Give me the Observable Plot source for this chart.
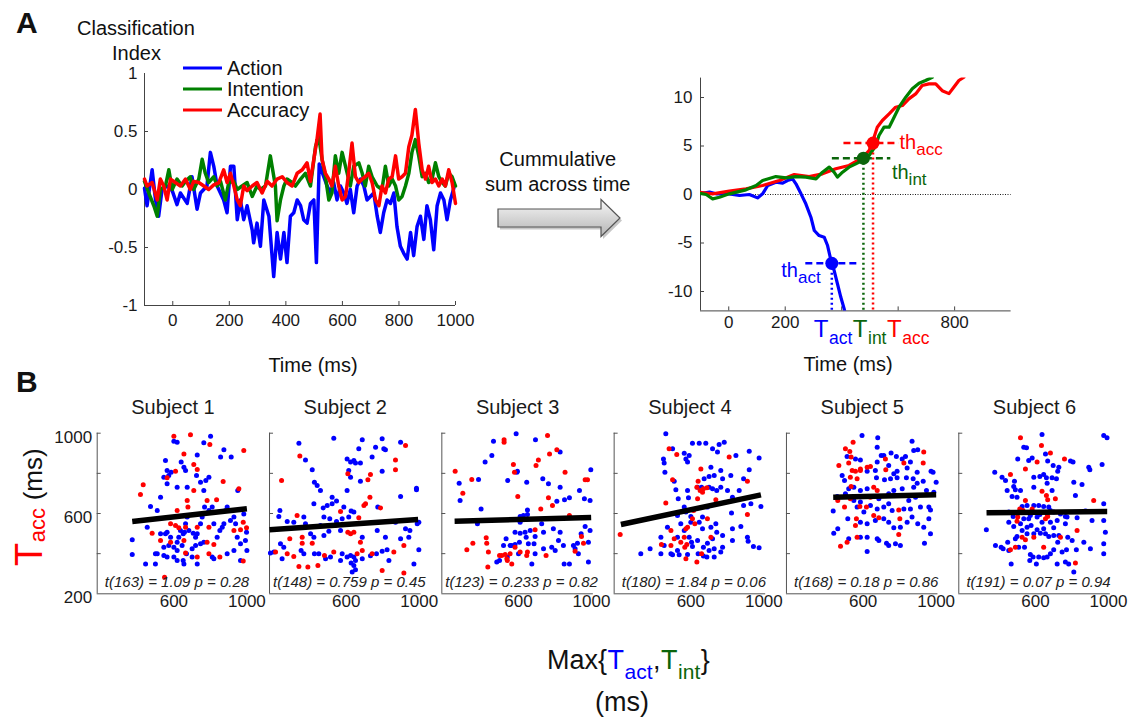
<!DOCTYPE html>
<html><head><meta charset="utf-8">
<script src="https://cdn.jsdelivr.net/npm/d3@7"></script>
<script src="https://cdn.jsdelivr.net/npm/@observablehq/plot@0.6"></script>
<style>
body{margin:0;background:#fff;}
#page{position:relative;width:1133px;height:719px;overflow:hidden;background:#fff;font-family:Arial,"Liberation Sans",Helvetica,sans-serif;}
</style></head><body><div id="page"></div>
<script>
// ---------------- DATA ----------------
// Panel A (left): classification index over time (ms)
const actionSeries = [[-100,0.01],[-91,-0.14],[-73,0.17],[-61,-0.09],[-50,-0.23],[-38,0.0],[-20,0.03],[-2,-0.01],[15,-0.13],[27,-0.03],[51,-0.12],[68,0.11],[86,-0.17],[98,-0.03],[121,0.03],[133,0.32],[145,0.2],[157,0.03],[180,-0.09],[192,-0.2],[204,0.2],[216,0.2],[228,-0.26],[239,-0.09],[251,-0.26],[263,-0.14],[281,-0.35],[286,-0.46],[298,-0.29],[310,-0.49],[322,-0.09],[340,-0.23],[357,-0.75],[369,-0.37],[381,-0.6],[393,-0.37],[404,-0.63],[416,-0.23],[428,-0.2],[440,-0.09],[452,-0.14],[463,-0.26],[475,-0.29],[487,-0.12],[499,-0.09],[508,-0.63],[518,0.22],[534,0.11],[546,0.03],[558,-0.03],[569,0.06],[581,-0.09],[593,0.03],[605,-0.03],[616,-0.12],[628,0.0],[640,-0.2],[652,0.03],[664,0.09],[676,0.03],[687,-0.09],[711,-0.03],[723,-0.23],[734,-0.37],[746,-0.2],[758,-0.09],[770,-0.12],[782,-0.03],[793,-0.32],[805,-0.49],[817,-0.55],[829,-0.6],[841,-0.37],[852,-0.57],[864,-0.32],[876,-0.23],[888,-0.43],[899,-0.14],[911,-0.26],[923,-0.52],[935,-0.14],[947,-0.03],[959,-0.09],[970,-0.26],[982,-0.09],[994,0.01]];
const intentionSeries = [[-100,0.07],[-85,-0.03],[-67,-0.14],[-55,-0.23],[-44,0.0],[-26,0.03],[-14,0.17],[-2,0.0],[15,0.09],[33,0.03],[45,0.07],[62,0.11],[74,0.0],[92,0.09],[104,0.26],[115,0.14],[127,0.06],[145,0.11],[157,0.03],[169,0.07],[186,-0.09],[198,0.06],[216,0.07],[228,0.0],[245,0.03],[263,0.06],[281,-0.06],[298,0.03],[310,0.0],[328,0.03],[345,0.29],[363,0.03],[369,-0.27],[381,-0.09],[393,0.03],[404,0.09],[422,0.06],[434,0.03],[452,0.09],[469,0.14],[487,0.03],[505,0.37],[516,0.46],[528,0.26],[540,0.11],[552,-0.09],[563,-0.03],[575,0.29],[587,0.14],[599,0.32],[611,0.2],[628,0.03],[640,0.2],[658,0.23],[670,0.14],[681,0.03],[693,0.2],[705,0.11],[723,0.03],[740,0.0],[752,0.2],[764,0.03],[776,0.09],[788,0.03],[799,-0.09],[811,-0.06],[823,0.03],[835,0.14],[846,0.32],[858,0.43],[870,0.29],[882,0.11],[894,0.14],[905,0.06],[917,0.09],[929,0.23],[941,0.11],[953,0.06],[964,0.03],[976,0.14],[988,0.11],[1000,0.03]];
const accuracySeries = [[-100,0.09],[-91,0.03],[-73,0.06],[-55,-0.09],[-44,0.09],[-32,0.03],[-20,-0.09],[-8,0.09],[9,0.06],[27,0.03],[45,0.09],[62,0.0],[74,0.07],[92,0.06],[110,0.03],[127,0.0],[145,0.04],[163,0.06],[180,0.17],[192,0.06],[204,0.14],[216,0.03],[228,-0.09],[239,-0.14],[251,0.03],[263,-0.01],[281,0.03],[298,0.06],[316,-0.03],[334,0.07],[351,0.03],[369,0.09],[387,0.11],[404,0.06],[422,0.03],[440,0.14],[458,0.17],[475,0.23],[487,0.07],[499,0.26],[510,0.43],[521,0.65],[528,0.26],[540,0.14],[552,0.09],[563,0.03],[575,0.2],[587,0.03],[599,-0.09],[611,-0.06],[622,0.14],[634,0.4],[646,0.11],[658,0.06],[670,0.09],[681,0.11],[693,0.14],[705,0.06],[717,-0.09],[729,-0.14],[740,0.03],[752,-0.03],[764,0.09],[776,0.11],[788,0.29],[799,0.09],[811,0.11],[823,0.14],[835,0.37],[846,0.47],[858,0.69],[870,0.4],[882,0.17],[894,0.09],[905,0.2],[917,0.06],[929,0.09],[941,0.03],[953,0.09],[964,0.03],[976,0.17],[988,0.06],[1000,-0.12]];
const timeTicksA = [0, 200, 400, 600, 800, 1000];
const indexTicks = [-1, -0.5, 0, 0.5, 1];

// Panel A (right): cumulative sums
const cumAction = [[-104,0.07],[-68,0.24],[-45,0.07],[2,0.07],[38,-0.1],[73,0.0],[102,-0.35],[120,0.07],[138,0.93],[167,1.27],[191,1.17],[208,1.44],[226,1.61],[238,1.1],[256,0.07],[273,-0.96],[291,-2.34],[303,-3.71],[320,-4.23],[338,-4.4],[350,-5.26],[362,-6.8],[373,-7.8],[385,-9.2],[397,-10.6],[409,-11.8],[413,-12.4]];
const cumAccuracy = [[-104,0.24],[-57,0.07],[2,0.34],[61,0.58],[120,0.93],[179,1.44],[232,2.06],[285,1.85],[332,2.13],[379,2.65],[426,2.99],[473,3.78],[497,4.53],[509,5.39],[526,6.94],[544,7.63],[568,8.31],[591,9.0],[615,9.17],[638,9.86],[662,10.37],[685,11.23],[709,11.4],[733,11.4],[756,10.7],[780,10.4],[797,11.06],[815,11.75],[833,12.09]];
const cumIntention = [[-104,0.14],[-80,0.0],[-57,-0.45],[-33,-0.28],[2,0.07],[61,0.48],[97,0.93],[120,1.44],[167,1.85],[203,1.72],[238,1.85],[273,1.79],[309,1.61],[332,2.3],[356,2.82],[373,2.3],[385,1.79],[403,2.3],[426,2.82],[450,3.16],[473,3.5],[497,4.02],[521,5.05],[532,6.08],[550,6.94],[568,6.94],[580,7.63],[603,9.0],[627,10.03],[650,10.9],[674,11.47],[697,11.75],[721,12.09]];
const cumTicks = [-10, -5, 0, 5, 10];
const cumTimeTicks = [0, 200, 400, 600, 800];
const cumTimeLabels = [0, 200, 800];
const thresholdNames = ["act", "int", "acc"];
const thresholdTime = [365, 477, 511];
const thresholdLevel = [-7.1, 3.75, 5.3];
const thresholdLineFrom = [273, 367, 408];
const thresholdLineTo = [456, 574, 603];

// Panel B: six subjects, T_acc vs Max{T_act, T_int}
const subjects = [1, 2, 3, 4, 5, 6];
const tStats = ["t(163) = 1.09 p = 0.28", "t(148) = 0.759 p = 0.45", "t(123) = 0.233 p = 0.82", "t(180) = 1.84 p = 0.06", "t(168) = 0.18 p = 0.86", "t(191) = 0.07 p = 0.94"];
const fitStartX = [372, 180, 250, 217, 436, 332];
const fitStartY = [560, 519, 562, 545, 681, 604];
const fitEndX = [1000, 994, 998, 984, 1000, 993];
const fitEndY = [624, 570, 580, 693, 693, 610];
const xLabelsB = [600, 1000];
const yLabelsB = [200, 600, 1000];
const yTicksB = [400, 600, 800, 1000];

const s1Blue = [[600,960],[618,955],[801,985],[764,952],[874,917],[728,892],[554,864],[563,814],[572,789],[585,806],[545,781],[563,748],[640,856],[655,831],[664,814],[724,789],[746,756],[775,764],[792,781],[856,881],[914,881],[950,715],[618,731],[673,731],[527,681],[509,615],[472,635],[454,532],[372,469],[372,396],[499,399],[499,349],[545,391],[554,499],[527,499],[563,507],[582,482],[545,432],[572,441],[600,432],[618,416],[627,482],[636,515],[651,499],[658,507],[664,549],[673,582],[682,515],[706,502],[719,482],[728,499],[746,549],[755,582],[768,632],[764,715],[792,615],[810,632],[819,549],[837,482],[852,515],[865,532],[874,549],[883,615],[892,632],[910,565],[929,582],[938,549],[947,482],[965,449],[992,466],[998,507],[983,598],[1000,416],[929,416],[965,366],[892,399],[810,383],[819,374],[728,349],[655,349],[618,366],[600,383],[563,383],[509,399],[445,349],[669,399],[700,424],[700,383],[618,457],[645,441],[719,441],[746,449],[764,457],[651,366]];
const s1Red = [[600,985],[691,992],[797,944],[983,914],[432,743],[417,695],[563,778],[709,844],[728,819],[655,897],[609,811],[870,759],[956,723],[709,715],[673,665],[677,632],[782,665],[834,668],[618,615],[582,549],[609,540],[627,529],[664,532],[728,532],[792,532],[929,515],[980,557],[965,519],[998,529],[481,502],[527,466],[582,457],[655,466],[782,457],[819,446],[664,403],[728,383],[792,399],[852,383],[980,363],[549,283]];
const s2Blue = [[341,950],[532,975],[797,972],[688,967],[669,922],[797,811],[377,867],[414,818],[426,756],[441,740],[459,715],[523,681],[547,662],[523,648],[496,640],[474,628],[423,648],[368,582],[237,615],[231,585],[277,560],[313,557],[459,540],[478,582],[510,574],[547,560],[578,574],[614,582],[627,612],[642,607],[587,632],[605,715],[624,781],[624,856],[651,851],[605,872],[642,864],[678,851],[742,881],[614,814],[678,761],[761,930],[806,922],[898,955],[815,917],[985,726],[985,718],[898,685],[773,632],[870,557],[989,549],[949,515],[925,524],[898,474],[815,482],[824,419],[797,412],[766,399],[733,389],[688,374],[651,366],[642,383],[624,391],[605,383],[578,399],[569,366],[514,383],[487,374],[450,399],[426,399],[368,399],[353,416],[258,432],[249,374],[240,449],[204,408],[185,403],[377,549],[405,499],[478,491],[505,512],[569,515],[633,308],[642,341],[651,320],[627,354],[971,349],[834,366],[998,419],[998,557],[943,482],[770,515],[688,482],[423,482]];
const s2Red = [[246,764],[346,887],[925,939],[870,867],[870,818],[733,794],[609,798],[719,768],[706,648],[697,640],[569,610],[669,579],[788,628],[541,540],[609,507],[642,507],[624,499],[678,457],[916,441],[532,408],[481,391],[414,452],[359,452],[331,590],[291,474],[213,408],[277,399],[313,386],[341,336],[390,333],[445,341],[660,399],[688,416],[742,399],[861,408],[797,316],[916,303],[730,681],[359,482]];
const s3Blue = [[275,751],[280,665],[381,769],[395,623],[375,549],[417,856],[454,889],[463,960],[541,764],[591,806],[594,811],[587,997],[645,756],[693,967],[828,906],[733,773],[764,748],[810,661],[852,668],[879,678],[934,715],[961,673],[992,665],[996,818],[828,731],[609,585],[627,590],[649,595],[649,618],[609,557],[581,507],[609,502],[636,507],[664,515],[691,486],[685,449],[654,449],[605,457],[581,446],[554,441],[642,482],[727,549],[737,507],[691,399],[737,424],[782,432],[801,416],[791,524],[819,466],[846,441],[850,349],[879,349],[828,507],[901,441],[923,452],[943,499],[965,535],[992,515],[983,457],[983,358],[928,399],[910,424],[673,349],[481,358],[496,366],[539,383],[563,441],[518,441],[532,474],[600,399]];
const s3Red = [[253,811],[295,701],[344,769],[423,479],[435,408],[426,452],[521,967],[521,955],[572,844],[578,806],[596,685],[645,391],[649,408],[609,408],[581,432],[554,399],[536,374],[527,396],[508,391],[563,349],[539,366],[696,839],[709,867],[759,988],[770,897],[810,917],[855,806],[722,623],[764,678],[786,640],[879,590],[945,485],[965,768],[978,768],[956,452],[910,412],[751,391],[691,519],[317,419],[350,452],[432,333],[496,391]];
const s4Blue = [[463,997],[450,872],[454,851],[458,806],[500,922],[564,900],[573,872],[582,856],[591,889],[609,950],[646,950],[682,950],[719,922],[755,944],[783,955],[746,906],[847,889],[920,910],[974,877],[920,818],[889,773],[819,789],[764,814],[728,789],[700,784],[673,773],[637,731],[659,731],[700,731],[719,723],[742,715],[764,731],[774,773],[710,831],[801,715],[865,715],[828,681],[509,761],[518,718],[531,673],[582,715],[587,678],[564,632],[573,607],[600,585],[600,557],[646,557],[664,582],[691,632],[710,532],[737,549],[742,507],[719,474],[774,491],[828,524],[823,602],[889,640],[929,648],[984,635],[874,535],[910,482],[914,462],[943,436],[974,429],[828,466],[774,432],[728,424],[700,416],[688,383],[669,388],[640,399],[609,436],[604,457],[591,482],[472,532],[436,482],[454,441],[491,399],[436,399],[377,424],[326,399],[500,394],[536,394],[527,416],[582,396],[728,383],[764,408],[669,432],[637,466],[691,452],[664,524],[527,482],[564,515],[527,590],[545,549]];
const s4Red = [[213,495],[439,446],[491,441],[481,922],[523,894],[500,768],[463,652],[640,761],[655,822],[633,731],[651,715],[637,673],[664,706],[669,723],[688,728],[615,615],[609,574],[622,549],[582,532],[573,524],[564,482],[567,432],[578,446],[545,457],[509,474],[573,374],[633,358],[659,399],[710,482],[691,574],[737,668],[810,881],[910,761],[910,595],[491,515]];
const s5Blue = [[594,989],[680,977],[868,960],[877,914],[899,917],[753,901],[782,884],[814,872],[832,884],[699,889],[677,856],[512,884],[558,872],[585,867],[622,811],[667,814],[673,778],[740,839],[768,798],[786,811],[841,827],[859,856],[896,806],[972,811],[983,806],[874,773],[837,778],[786,778],[750,773],[717,768],[1000,756],[929,761],[896,751],[877,731],[947,715],[987,706],[814,723],[768,715],[740,698],[686,673],[622,723],[585,715],[549,731],[521,723],[498,764],[485,789],[436,612],[458,685],[503,690],[549,665],[585,657],[567,632],[604,607],[640,640],[677,623],[713,632],[740,648],[759,615],[823,623],[859,623],[914,632],[969,618],[960,574],[932,532],[899,549],[868,582],[841,557],[804,532],[768,529],[740,557],[713,574],[667,565],[622,549],[585,557],[516,574],[461,524],[439,502],[521,474],[585,482],[622,482],[677,474],[686,466],[728,452],[740,441],[804,441],[777,449],[936,452],[969,499],[622,411],[503,698],[677,930],[713,889],[850,665],[887,681],[960,632]];
const s5Red = [[545,955],[503,922],[527,909],[534,881],[521,852],[467,839],[540,814],[558,811],[585,814],[585,822],[622,831],[640,834],[722,872],[724,818],[823,851],[929,851],[932,906],[530,781],[534,735],[567,773],[658,731],[677,715],[640,681],[461,665],[498,632],[582,635],[618,632],[658,590],[686,579],[563,574],[558,540],[567,482],[795,618],[801,574],[795,495],[512,457],[476,437],[530,673]];
const s6Blue = [[636,993],[974,988],[992,977],[536,930],[551,927],[503,872],[563,864],[582,877],[655,897],[667,861],[697,839],[728,831],[722,811],[792,861],[806,856],[892,831],[898,818],[965,844],[377,806],[417,781],[436,764],[485,761],[481,735],[490,718],[518,715],[591,731],[624,784],[660,778],[691,778],[715,773],[645,794],[855,744],[819,690],[874,612],[974,648],[974,565],[910,565],[828,579],[764,585],[737,598],[700,607],[673,632],[645,635],[618,640],[591,640],[554,640],[527,635],[499,681],[472,685],[445,715],[454,607],[478,585],[536,574],[563,574],[609,582],[636,557],[682,557],[719,565],[773,582],[331,519],[381,441],[412,432],[423,424],[448,457],[490,474],[499,486],[527,515],[554,532],[576,540],[609,519],[627,502],[655,499],[673,486],[700,491],[728,491],[777,482],[801,466],[865,457],[974,449],[974,399],[983,507],[901,424],[824,419],[770,419],[746,408],[722,457],[700,419],[682,399],[664,383],[645,379],[618,383],[587,383],[569,366],[605,349],[572,396],[540,432],[508,432],[467,349],[454,416],[782,349],[764,358],[810,308],[719,349],[764,549],[700,529],[645,524],[591,499],[554,499],[518,549],[481,535],[454,557],[572,590],[624,595],[691,715],[664,751],[810,756],[591,781],[682,615]];
const s6Red = [[518,977],[633,939],[682,901],[759,872],[609,856],[545,822],[463,794],[636,711],[660,690],[667,668],[709,673],[919,665],[545,665],[514,623],[503,582],[499,562],[532,615],[582,623],[664,598],[667,585],[655,574],[527,482],[545,469],[490,432],[463,419],[645,432],[737,482],[828,515],[819,353],[591,482]];

// ---------------- RENDER ----------------
const FONT = 'Arial, "Liberation Sans", Helvetica, sans-serif';
const page = document.getElementById("page");
function place(node, left, top) {
  node.style.position = "absolute";
  node.style.left = left + "px";
  node.style.top = top + "px";
  page.appendChild(node);
}
const baseStyle = {background: "transparent", fontFamily: FONT, fontSize: "17px", color: "#1a1a1a", overflow: "visible"};
const fmt = d => String(d);
const toRows = arr => arr.map(([t, v]) => ({t, v}));
const AXIS = "#444";

// Panel A left
const AL = {left: 80, top: 30, width: 400, height: 320, mL: 64, mR: 25, mT: 43, mB: 45};
const alW = AL.width - AL.mL - AL.mR, alH = AL.height - AL.mT - AL.mB;
const plotAL = Plot.plot({
  width: AL.width, height: AL.height,
  marginLeft: AL.mL, marginRight: AL.mR, marginTop: AL.mT, marginBottom: AL.mB,
  style: baseStyle,
  x: {domain: [-100, 1000]}, y: {domain: [-1, 1]},
  marks: [
    Plot.ruleX([-100], {stroke: AXIS}),
    Plot.ruleY([-1], {stroke: AXIS}),
    Plot.tickX(timeTicksA, {x: d => d, insetTop: alH - 4, stroke: AXIS}),
    Plot.tickY(indexTicks.filter(d => d > -1 && d < 1), {y: d => d, insetRight: alW - 4, stroke: AXIS}),
    Plot.axisX({ticks: timeTicksA, tickSize: 0, tickPadding: 8, tickFormat: fmt, label: null}),
    Plot.axisY({ticks: indexTicks, tickSize: 0, tickPadding: 7, tickFormat: fmt, label: null}),
    Plot.line(toRows(actionSeries), {x: "t", y: "v", stroke: "#0000ff", strokeWidth: 3.5}),
    Plot.line(toRows(intentionSeries), {x: "t", y: "v", stroke: "#008000", strokeWidth: 3.5}),
    Plot.line(toRows(accuracySeries), {x: "t", y: "v", stroke: "#ff0000", strokeWidth: 3.5})
  ]
});
place(plotAL, AL.left, AL.top);

// Panel A right
const thrColor = {act: "#0000ff", int: "#0b650b", acc: "#ff0000"};
const thrRows = thresholdNames.map((n, i) => ({name: n, time: thresholdTime[i], level: thresholdLevel[i], from: thresholdLineFrom[i], to: thresholdLineTo[i], color: thrColor[n]}));
const AR = {left: 640, top: 50, width: 400, height: 300, mL: 60, mR: 29.4, mT: 27.6, mB: 39.6};
const arW = AR.width - AR.mL - AR.mR, arH = AR.height - AR.mT - AR.mB;
const plotAR = Plot.plot({
  width: AR.width, height: AR.height,
  marginLeft: AR.mL, marginRight: AR.mR, marginTop: AR.mT, marginBottom: AR.mB,
  style: baseStyle,
  x: {domain: [-100, 1000]}, y: {domain: [-12, 12]},
  color: {type: "identity"},
  marks: [
    Plot.ruleY([0], {stroke: "#000", strokeWidth: 0.9, strokeDasharray: "1,1.5"}),
    Plot.ruleX([-100], {stroke: AXIS}),
    Plot.ruleY([-12], {stroke: AXIS}),
    Plot.tickX(cumTimeTicks, {x: d => d, insetTop: arH - 4, stroke: AXIS}),
    Plot.tickY(cumTicks, {y: d => d, insetRight: arW - 4, stroke: AXIS}),
    Plot.axisX({ticks: cumTimeLabels, tickSize: 0, tickPadding: 5, tickFormat: fmt, label: null}),
    Plot.axisY({ticks: cumTicks, tickSize: 0, tickPadding: 8, tickFormat: fmt, label: null}),
    Plot.line(toRows(cumAction), {x: "t", y: "v", stroke: "#0000ff", strokeWidth: 3.2, clip: true}),
    Plot.line(toRows(cumAccuracy), {x: "t", y: "v", stroke: "#ff0000", strokeWidth: 3.2, clip: true}),
    Plot.line(toRows(cumIntention), {x: "t", y: "v", stroke: "#008000", strokeWidth: 3.2, clip: true}),
    Plot.ruleX(thrRows, {x: "time", y1: "level", y2: -12, stroke: "color", strokeWidth: 2.5, strokeDasharray: "2,3"}),
    Plot.ruleY(thrRows, {y: "level", x1: "from", x2: "to", stroke: "color", strokeWidth: 2.5, strokeDasharray: "7,4"}),
    Plot.dot(thrRows, {x: "time", y: "level", r: 6.5, fill: "color"})
  ]
});
place(plotAR, AR.left, AR.top);

// Panel B (faceted)
const B = {left: 0, top: 390, width: 1133, height: 240, mL: 96.7, mR: 23.2, mT: 42.7, mB: 36.7};
const padIn = 0.1207;
const bandW = (B.width - B.mL - B.mR) / (subjects.length - padIn) * (1 - padIn);
const ptsBlue = [], ptsRed = [];
[s1Blue, s2Blue, s3Blue, s4Blue, s5Blue, s6Blue].forEach((arr, i) => arr.forEach(([x, y]) => ptsBlue.push({subject: subjects[i], x, y})));
[s1Red, s2Red, s3Red, s4Red, s5Red, s6Red].forEach((arr, i) => arr.forEach(([x, y]) => ptsRed.push({subject: subjects[i], x, y})));
const fitRows = subjects.map((s, i) => ({subject: s, x1: fitStartX[i], y1: fitStartY[i], x2: fitEndX[i], y2: fitEndY[i]}));
const statRows = subjects.map((s, i) => ({subject: s, label: tStats[i]}));
const plotB = Plot.plot({
  width: B.width, height: B.height,
  marginLeft: B.mL, marginRight: B.mR, marginTop: B.mT, marginBottom: B.mB,
  style: baseStyle,
  fx: {domain: subjects, paddingInner: padIn, paddingOuter: 0, round: false, axis: null},
  x: {domain: [180, 1010]}, y: {domain: [200, 1000]},
  marks: [
    Plot.ruleX([180], {stroke: "#555"}),
    Plot.ruleY([200], {stroke: "#555"}),
    Plot.tickY(yTicksB, {y: d => d, insetRight: bandW - 4, stroke: "#555"}),
    Plot.axisX({ticks: xLabelsB, tickSize: 0, tickPadding: 1, tickFormat: fmt, label: null}),
    Plot.axisY({ticks: yLabelsB, tickSize: 0, tickPadding: 5, tickFormat: fmt, label: null, dy: 4}),
    Plot.dot(ptsBlue, {fx: "subject", x: "x", y: "y", r: 2.5, fill: "#0000ff"}),
    Plot.dot(ptsRed, {fx: "subject", x: "x", y: "y", r: 2.5, fill: "#ff0000"}),
    Plot.link(fitRows, {fx: "subject", x1: "x1", y1: "y1", x2: "x2", y2: "y2", stroke: "#000", strokeWidth: 5.5}),
    Plot.text(subjects, {fx: d => d, frameAnchor: "top", lineAnchor: "middle", dy: -26, text: d => "Subject " + d, fontSize: 20}),
    Plot.text(statRows, {fx: "subject", frameAnchor: "bottom", lineAnchor: "middle", dy: -11.6, dx: 4, text: "label", fontSize: 15, fontStyle: "italic", fill: "#222"})
  ]
});
place(plotB, B.left, B.top);

// ---------------- ANNOTATION OVERLAY ----------------
const ov = d3.create("svg").attr("width", 1133).attr("height", 719)
  .style("font-family", FONT).style("pointer-events", "none").style("overflow", "visible");
function txt(x, y, parts, opts = {}) {
  const t = ov.append("text").attr("x", x).attr("y", y).attr("fill", "#111");
  if (opts.anchor) t.attr("text-anchor", opts.anchor);
  if (opts.transform) t.attr("transform", opts.transform).attr("x", 0).attr("y", 0);
  if (opts.weight) t.attr("font-weight", opts.weight);
  parts.forEach(p => {
    const s = t.append("tspan").text(p.t).attr("font-size", p.size).attr("fill", p.fill || "#111");
    if (p.dx) s.attr("dx", p.dx);
    if (p.dy) s.attr("dy", p.dy);
  });
  return t;
}
// panel letters
txt(16, 33, [{t: "A", size: 30}], {weight: "bold"});
txt(16, 392, [{t: "B", size: 30}], {weight: "bold"});
// panel A left titles
txt(77, 35, [{t: "Classification", size: 20}]);
txt(112, 60, [{t: "Index", size: 20}]);
txt(313, 372, [{t: "Time (ms)", size: 20}], {anchor: "middle"});
// legend
const legend = [["Action", "#0000ff"], ["Intention", "#008000"], ["Accuracy", "#ff0000"]];
legend.forEach(([name, col], i) => {
  const y = 68 + i * 21;
  ov.append("line").attr("x1", 183).attr("x2", 222).attr("y1", y).attr("y2", y).attr("stroke", col).attr("stroke-width", 3);
  txt(227, y + 7, [{t: name, size: 20}]);
});
// arrow
const defs = ov.append("defs");
const grad = defs.append("linearGradient").attr("id", "arrowGrad").attr("x1", 0).attr("y1", 0).attr("x2", 0).attr("y2", 1);
grad.append("stop").attr("offset", "0%").attr("stop-color", "#f7f7f7");
grad.append("stop").attr("offset", "100%").attr("stop-color", "#b4b4b4");
const arrowPts = [[498, 209], [601, 209], [601, 199.5], [620, 218], [601, 236.5], [601, 227], [498, 227]];
ov.append("polygon").attr("points", arrowPts.map(([x, y]) => `${x + 2},${y + 2.5}`).join(" ")).attr("fill", "rgba(0,0,0,0.22)");
ov.append("polygon").attr("points", arrowPts.map(p => p.join(",")).join(" ")).attr("fill", "url(#arrowGrad)").attr("stroke", "#555").attr("stroke-width", 1.2);
txt(557.7, 166, [{t: "Cummulative", size: 20}], {anchor: "middle"});
txt(557.7, 191, [{t: "sum across time", size: 20}], {anchor: "middle"});
// panel A right labels, tied to the threshold points through the plot's scales
const sx = plotAR.scale("x"), sy = plotAR.scale("y");
const dotPos = n => {
  const r = thrRows.find(d => d.name === n);
  return [AR.left + sx.apply(r.time), AR.top + sy.apply(r.level)];
};
const [ax, ay] = dotPos("act"), [ix, iy] = dotPos("int"), [cx, cy] = dotPos("acc");
txt(ax - 50, ay + 14, [{t: "th", size: 20, fill: thrColor.act}, {t: "act", size: 17, fill: thrColor.act, dy: 6}]);
txt(ix + 29, iy + 21, [{t: "th", size: 20, fill: thrColor.int}, {t: "int", size: 17, fill: thrColor.int, dy: 6}]);
txt(cx + 27, cy + 6.5, [{t: "th", size: 20, fill: thrColor.acc}, {t: "acc", size: 17, fill: thrColor.acc, dy: 6}]);
// T labels under the axis as one text run
txt(ax - 17.5, 337, [
  {t: "T", size: 24, fill: thrColor.act},
  {t: "act", size: 17.5, fill: thrColor.act, dx: 0.5, dy: 7},
  {t: "T", size: 24, fill: thrColor.int, dx: 0.5, dy: -7},
  {t: "int", size: 17.5, fill: thrColor.int, dx: 0.5, dy: 7},
  {t: "T", size: 24, fill: thrColor.acc, dx: 0.5, dy: -7},
  {t: "acc", size: 17.5, fill: thrColor.acc, dx: 0.5, dy: 7}
]);
txt(848, 371, [{t: "Time (ms)", size: 20}], {anchor: "middle"});
// panel B axis titles
txt(0, 0, [{t: "T", size: 38, fill: "#ff0000"}, {t: "acc", size: 22, fill: "#ff0000", dx: 0.5, dy: 3}, {t: " (ms)", size: 26, fill: "#111", dx: 0.5, dy: -3}], {transform: "translate(42,566) rotate(-90)"});
txt(547, 669, [
  {t: "Max{", size: 27},
  {t: "T", size: 27, fill: "#0000ff", dx: 0.5},
  {t: "act", size: 21, fill: "#0000ff", dx: 0.5, dy: 10},
  {t: ",", size: 27, dx: 0.5, dy: -10},
  {t: "T", size: 27, fill: "#0b650b", dx: 0.5},
  {t: "int", size: 21, fill: "#0b650b", dx: 0.5, dy: 10},
  {t: "}", size: 27, dx: 0.5, dy: -10}
]);
txt(622, 711, [{t: "(ms)", size: 27}], {anchor: "middle"});
place(ov.node(), 0, 0);
</script></body></html>
